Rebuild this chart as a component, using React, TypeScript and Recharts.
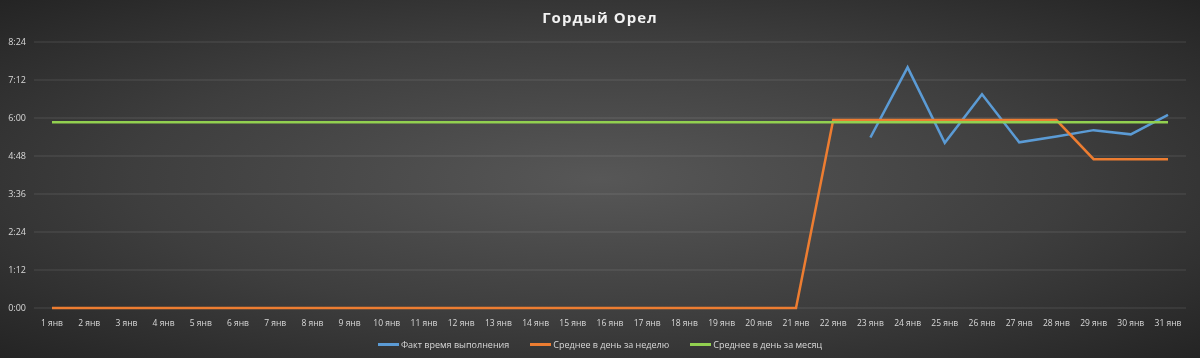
import React from 'react';
import { LineChart, Line, XAxis, YAxis, CartesianGrid } from 'recharts';

// days of January
const days = [
  '1 янв', '2 янв', '3 янв', '4 янв', '5 янв', '6 янв', '7 янв', '8 янв', '9 янв', '10 янв',
  '11 янв', '12 янв', '13 янв', '14 янв', '15 янв', '16 янв', '17 янв', '18 янв', '19 янв', '20 янв',
  '21 янв', '22 янв', '23 янв', '24 янв', '25 янв', '26 янв', '27 янв', '28 янв', '29 янв', '30 янв',
  '31 янв',
];

// values in minutes
const fact = [
  null, null, null, null, null, null, null, null, null, null,
  null, null, null, null, null, null, null, null, null, null,
  null, null, 323, 456, 313, 405, 314, 325, 337, 329,
  366,
];

const weekAvg = [
  0, 0, 0, 0, 0, 0, 0, 0, 0, 0,
  0, 0, 0, 0, 0, 0, 0, 0, 0, 0,
  0, 356, 356, 356, 356, 356, 356, 356, 282, 282,
  282,
];

const monthAvg = [
  352, 352, 352, 352, 352, 352, 352, 352, 352, 352,
  352, 352, 352, 352, 352, 352, 352, 352, 352, 352,
  352, 352, 352, 352, 352, 352, 352, 352, 352, 352,
  352,
];

const yTicks = [0, 72, 144, 216, 288, 360, 432, 504];

const seriesNames = ['Факт время выполнения', 'Среднее в день за неделю', 'Среднее в день за месяц'];
const seriesColors = ['#5b9bd5', '#ed7d31', '#92d050'];

const rows = days.map((d, i) => ({
  day: d,
  fact: fact[i],
  week: weekAvg[i],
  month: monthAvg[i],
}));

const fmt = (m: number) => `${Math.floor(m / 60)}:${String(m % 60).padStart(2, '0')}`;

const FONT = 'Open Sans, Liberation Sans, sans-serif';

function LegendBox() {
  return (
    <div
      style={{
        position: 'absolute',
        top: 338,
        left: 0,
        width: 1200,
        display: 'flex',
        justifyContent: 'center',
        gap: 21,
        fontFamily: FONT,
        fontSize: 9,
        color: '#d9d9d9',
      }}
    >
      {seriesNames.map((n, i) => (
        <div key={n} style={{ display: 'flex', alignItems: 'center' }}>
          <span style={{ display: 'inline-block', width: 21, height: 3, background: seriesColors[i], marginRight: 2 }} />
          <span>{n}</span>
        </div>
      ))}
    </div>
  );
}

export default function App() {
  return (
    <div
      style={{
        position: 'fixed',
        left: 0,
        top: 0,
        width: 1200,
        height: 358,
        background: 'radial-gradient(ellipse farthest-corner at 50% 50%, #575757 0%, #3e3e3e 55%, #242424 100%)',
      }}
    >
      <div
        style={{
          position: 'absolute',
          top: 7,
          width: 1200,
          textAlign: 'center',
          fontFamily: FONT,
          fontWeight: 700,
          fontSize: 15,
          letterSpacing: 1,
          color: '#f2f2f2',
        }}
      >
        Гордый Орел
      </div>
      <LineChart width={1200} height={358} data={rows} margin={{ top: 42, right: 14, bottom: 30, left: 0 }}>
        <CartesianGrid vertical={false} stroke="rgba(255,255,255,0.13)" />
        <XAxis
          dataKey="day"
          height={20}
          interval={0}
          padding={{ left: 18, right: 18 }}
          axisLine={false}
          tickLine={false}
          tickMargin={6}
          tick={{ fill: '#d9d9d9', fontSize: 8.5, fontFamily: FONT }}
        />
        <YAxis
          width={34}
          domain={[0, 504]}
          ticks={yTicks}
          tickFormatter={fmt}
          axisLine={false}
          tickLine={false}
          tickSize={0}
          tickMargin={8}
          tick={{ fill: '#d9d9d9', fontSize: 9, fontFamily: FONT }}
        />
        <Line dataKey="fact" name={seriesNames[0]} stroke={seriesColors[0]} strokeWidth={2.5} dot={false} isAnimationActive={false} />
        <Line dataKey="week" name={seriesNames[1]} stroke={seriesColors[1]} strokeWidth={2.5} dot={false} isAnimationActive={false} />
        <Line dataKey="month" name={seriesNames[2]} stroke={seriesColors[2]} strokeWidth={2.5} dot={false} isAnimationActive={false} />
      </LineChart>
      <LegendBox />
    </div>
  );
}
